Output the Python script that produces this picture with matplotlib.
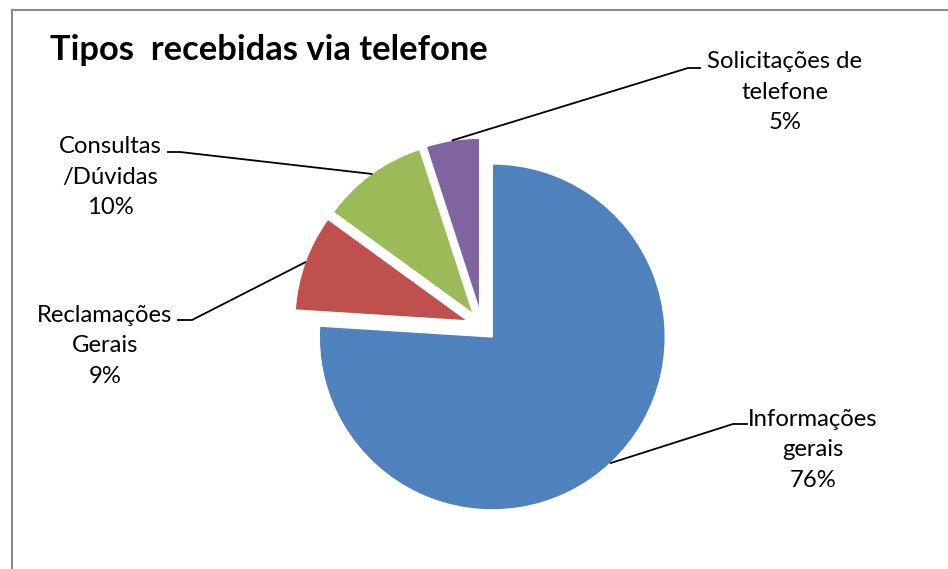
import numpy as np
import matplotlib.pyplot as plt
from matplotlib.patches import Rectangle

labels = ["Informações\ngerais", "Reclamações\nGerais", "Consultas\n/Dúvidas", "Solicitações de\ntelefone"]
values = [76, 9, 10, 5]
colors = ["#4F81BD", "#C0504D", "#9BBB59", "#8064A2"]

W, H = 948, 569
fig = plt.figure(figsize=(W / 100, H / 100), dpi=100)
ax = fig.add_axes([0, 0, 1, 1])

# pixel-like coordinates, y measured upward; explode is in data units here
wedges, _ = ax.pie(values, colors=colors, startangle=90, counterclock=False,
                   explode=[15] * 4, radius=173, center=(482, H - 326),
                   wedgeprops=dict(edgecolor="white", linewidth=1))
ax.set_xlim(0, W)
ax.set_ylim(0, H)
ax.set_aspect("equal")
ax.axis("off")

# chart border
ax.add_patch(Rectangle((12, -20), W, H - 10 + 20, fill=False, edgecolor="#8c8c8c", linewidth=1.5))

ax.text(50, H - 50, "Tipos  recebidas via telefone", fontsize=24.8, fontweight="bold",
        family="Lato", va="center", ha="left")

# label block centre, start of the horizontal leader tick
label_pos = [(813, 450), (105, 346), (110, 177), (785, 92)]
ticks = [((733, 424), (747, 424)), ((178, 320), (192, 320)),
         ((168, 152), (180, 152)), ((688, 68), (700, 68))]

total = sum(values)
for w, lab, v, (tx, ty), (t0, t1) in zip(wedges, labels, values, label_pos, ticks):
    ang = np.deg2rad((w.theta1 + w.theta2) / 2)
    cx, cy = w.center
    px, py = cx + w.r * np.cos(ang), cy + w.r * np.sin(ang)
    txt = f"{lab}\n{round(100 * v / total)}%"
    ax.text(tx, H - ty, txt, ha="center", va="center", fontsize=17.2, family="Lato",
            linespacing=1.56)
    # tick near text, then diagonal to the arc midpoint
    near = t0 if t0[0] > 400 else t1
    far = t1 if t0[0] > 400 else t0
    ax.plot([far[0], near[0], px], [H - far[1], H - near[1], py], color="black", linewidth=1.3)

fig.savefig("out.png", dpi=100)
